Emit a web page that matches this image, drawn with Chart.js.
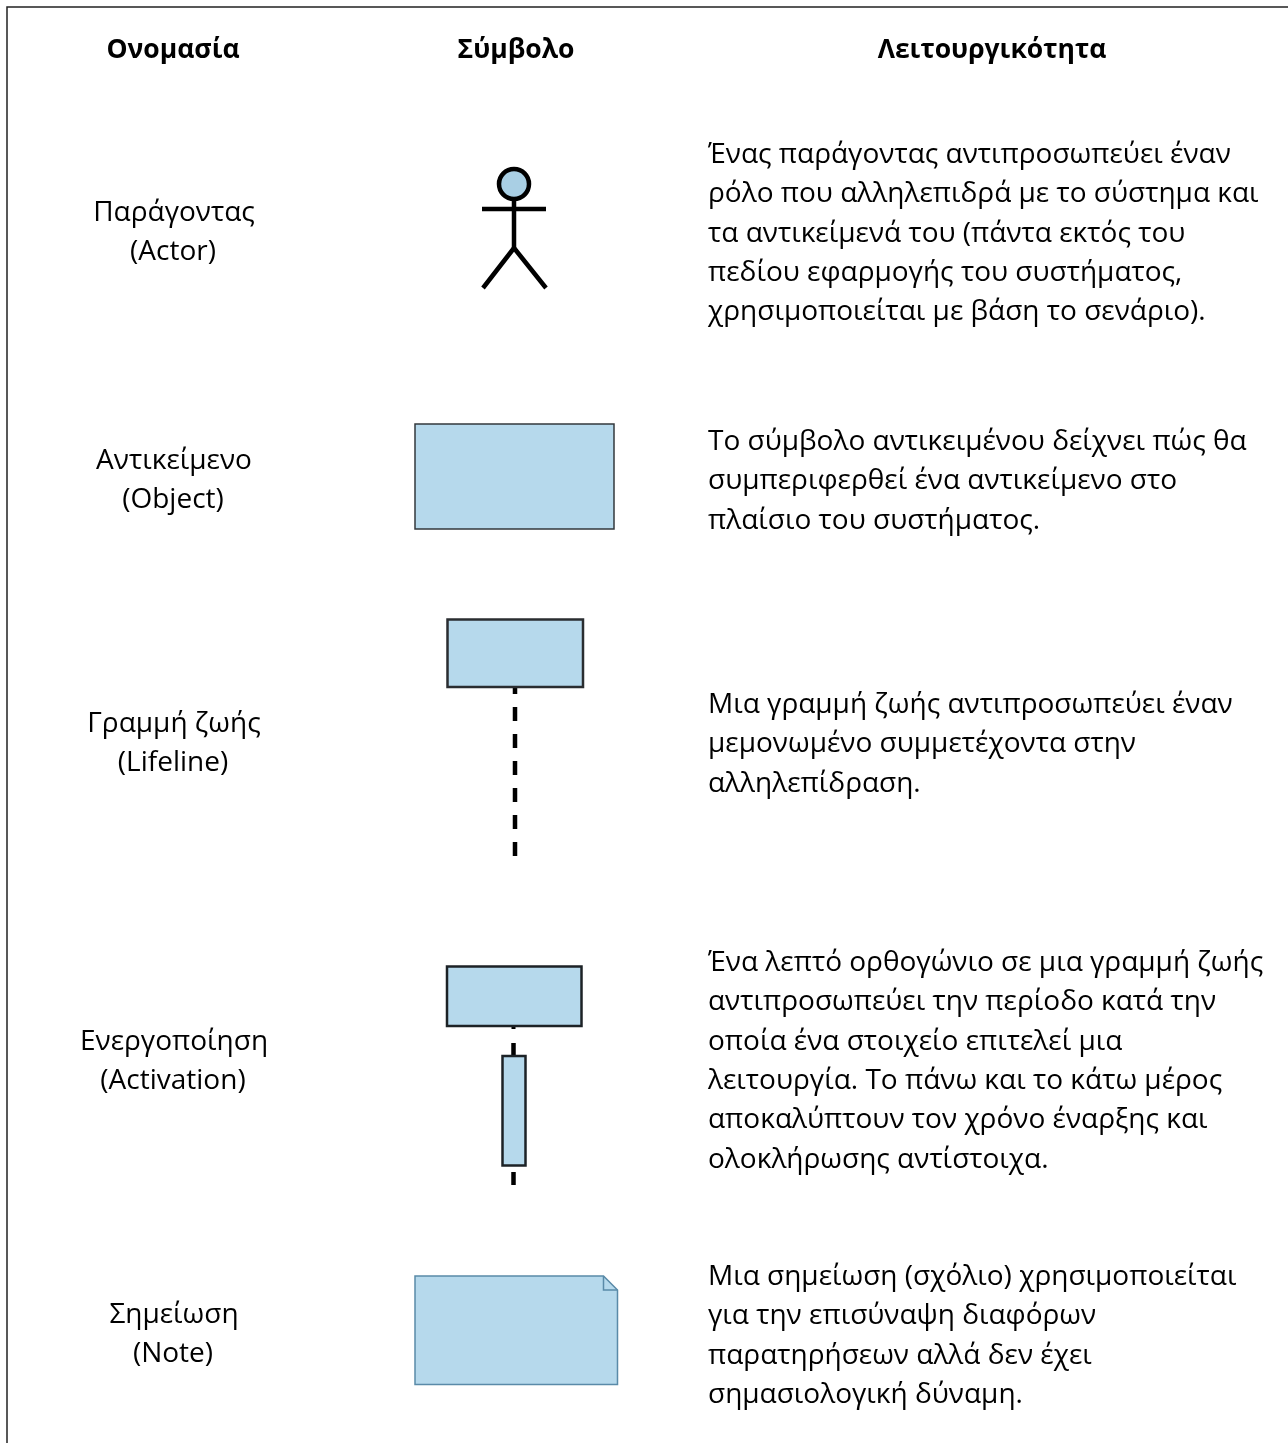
<!DOCTYPE html>
<html lang="el"><head><meta charset="utf-8">
<style>html,body{margin:0;padding:0;background:#fff;overflow:hidden}#w{position:relative;width:1288px;height:1443px}</style>
<script src="https://cdn.jsdelivr.net/npm/chart.js@4"></script>
</head><body><div id="w"><canvas id="c" width="1288" height="1443"></canvas></div>
<script>
const headers = ["Ονομασία", "Σύμβολο", "Λειτουργικότητα"];
const namesEl = ["Παράγοντας", "Αντικείμενο", "Γραμμή ζωής", "Ενεργοποίηση", "Σημείωση"];
const namesEn = ["(Actor)", "(Object)", "(Lifeline)", "(Activation)", "(Note)"];
const descriptions = [
 ["Ένας παράγοντας αντιπροσωπεύει έναν","ρόλο που αλληλεπιδρά με το σύστημα και","τα αντικείμενά του (πάντα εκτός του","πεδίου εφαρμογής του συστήματος,","χρησιμοποιείται με βάση το σενάριο)."],
 ["Το σύμβολο αντικειμένου δείχνει πώς θα","συμπεριφερθεί ένα αντικείμενο στο","πλαίσιο του συστήματος."],
 ["Μια γραμμή ζωής αντιπροσωπεύει έναν","μεμονωμένο συμμετέχοντα στην","αλληλεπίδραση."],
 ["Ένα λεπτό ορθογώνιο σε μια γραμμή ζωής","αντιπροσωπεύει την περίοδο κατά την","οποία ένα στοιχείο επιτελεί μια","λειτουργία. Το πάνω και το κάτω μέρος","αποκαλύπτουν τον χρόνο έναρξης και","ολοκλήρωσης αντίστοιχα."],
 ["Μια σημείωση (σχόλιο) χρησιμοποιείται","για την επισύναψη διαφόρων","παρατηρήσεων αλλά δεν έχει","σημασιολογική δύναμη."]
];
const frame = [[7,1443],[7,7],[1288,7]];
const actorHead = [[514,184]];
const actorArms = [[482,209],[546,209]];
const actorBody = [[514,200],[514,248]];
const actorLegs = [[483,288],[514,248],[546,288]];
const objectBox = [[415,529],[415,424],[614,424],[614,529],[415,529]];
const lifelineBox = [[447.5,687],[447.5,619.5],[583,619.5],[583,687],[447.5,687]];
const lifelineDash = [[515,680],[515,856]];
const activationBox = [[447,1026],[447,966.5],[581.5,966.5],[581.5,1026],[447,1026]];
const activationStub = [[513.5,1026],[513.5,1029]];
const activationUpper = [[513.5,1043],[513.5,1056]];
const activationBar = [[502.5,1165.5],[502.5,1056],[525.5,1056],[525.5,1165.5],[502.5,1165.5]];
const activationLower = [[513.5,1172],[513.5,1185]];
const noteBody = [[415,1384.5],[415,1276],[603.5,1276],[617.5,1290],[617.5,1384.5],[415,1384.5]];
const noteFold = [[603.5,1276],[603.5,1290],[617.5,1290]];

const pts = a => a.map(p => ({x:p[0], y:p[1]}));
const BLUE = "#b6d9ec";
const stroke = (d, color, w, extra) => Object.assign({data:pts(d), showLine:true, borderColor:color, borderWidth:w, pointRadius:0, fill:false, tension:0, clip:false, borderJoinStyle:"miter"}, extra||{});
const box = (d, color, w) => [
  stroke(d.slice(1,-1), "rgba(0,0,0,0)", 0, {backgroundColor:BLUE, fill:{value:d[0][1]}}),
  stroke(d, color, w, {borderCapStyle:"square"})
];

const headerY = [58], nameRowY = [221, 469, 732, 1050, 1323], descRowY = [163, 450, 713, 971, 1285];
const LINE = 39.3, NAME_LINE = 39, FONT = '"Open Sans", sans-serif';

const textPlugin = { id:"tableText", afterDraw(chart){
  const {ctx, scales:{x,y}} = chart;
  const put = (s, px, py, align, font) => { ctx.font = font; ctx.textAlign = align; ctx.textBaseline = "alphabetic"; ctx.fillStyle = "#000"; ctx.fillText(s, x.getPixelForValue(px), y.getPixelForValue(py)); };
  ctx.save();
  const hf = "bold 26.5px " + FONT, bf = "28px " + FONT;
  put(headers[0], 173, headerY[0], "center", hf);
  put(headers[1], 516, headerY[0], "center", hf);
  put(headers[2], 992, headerY[0], "center", hf);
  namesEl.forEach((n,i) => { put(n, 174, nameRowY[i], "center", bf); put(namesEn[i], 173, nameRowY[i]+NAME_LINE, "center", bf); });
  descriptions.forEach((lines,i) => lines.forEach((l,j) => put(l, 708, descRowY[i]+j*LINE, "left", bf)));
  ctx.restore();
}};

// painted back to front; Chart.js paints the last dataset first, hence the reverse()
const layers = [
    stroke(frame, "#222", 1.5),
    stroke(actorBody, "#000", 4.5),
    stroke(actorArms, "#000", 4.5),
    stroke(actorLegs, "#000", 4.5),
    {data:pts(actorHead), pointRadius:15, pointBackgroundColor:"#a9cfe4", pointBorderColor:"#000", pointBorderWidth:4.5, showLine:false, clip:false},
    ...box(objectBox, "#33393d", 1.5),
    stroke(lifelineDash, "#000", 4.5, {borderDash:[14,13]}),
    ...box(lifelineBox, "#2a2d30", 2.5),
    stroke(activationStub, "#000", 4),
    stroke(activationUpper, "#000", 4.5),
    stroke(activationLower, "#000", 4.5),
    ...box(activationBox, "#1c2226", 2.5),
    ...box(activationBar, "#1c2226", 2.5),
    ...box(noteBody, "#5a8aa8", 1.5),
    stroke(noteFold, "#5a8aa8", 1.5)
];

new Chart(document.getElementById("c"), {
  type:"scatter",
  data:{datasets:layers.reverse()},
  options:{responsive:false, animation:false, devicePixelRatio:1,
    layout:{padding:0, autoPadding:false},
    plugins:{legend:{display:false}, tooltip:{enabled:false}, title:{display:false}},
    scales:{
      x:{type:"linear", min:0, max:1288, display:false},
      y:{type:"linear", min:0, max:1443, reverse:true, display:false}
    }},
  plugins:[textPlugin, {id:"bg", beforeDraw(c){c.ctx.save();c.ctx.fillStyle="#fff";c.ctx.fillRect(0,0,c.width,c.height);c.ctx.restore();}}]
});
</script></body></html>
